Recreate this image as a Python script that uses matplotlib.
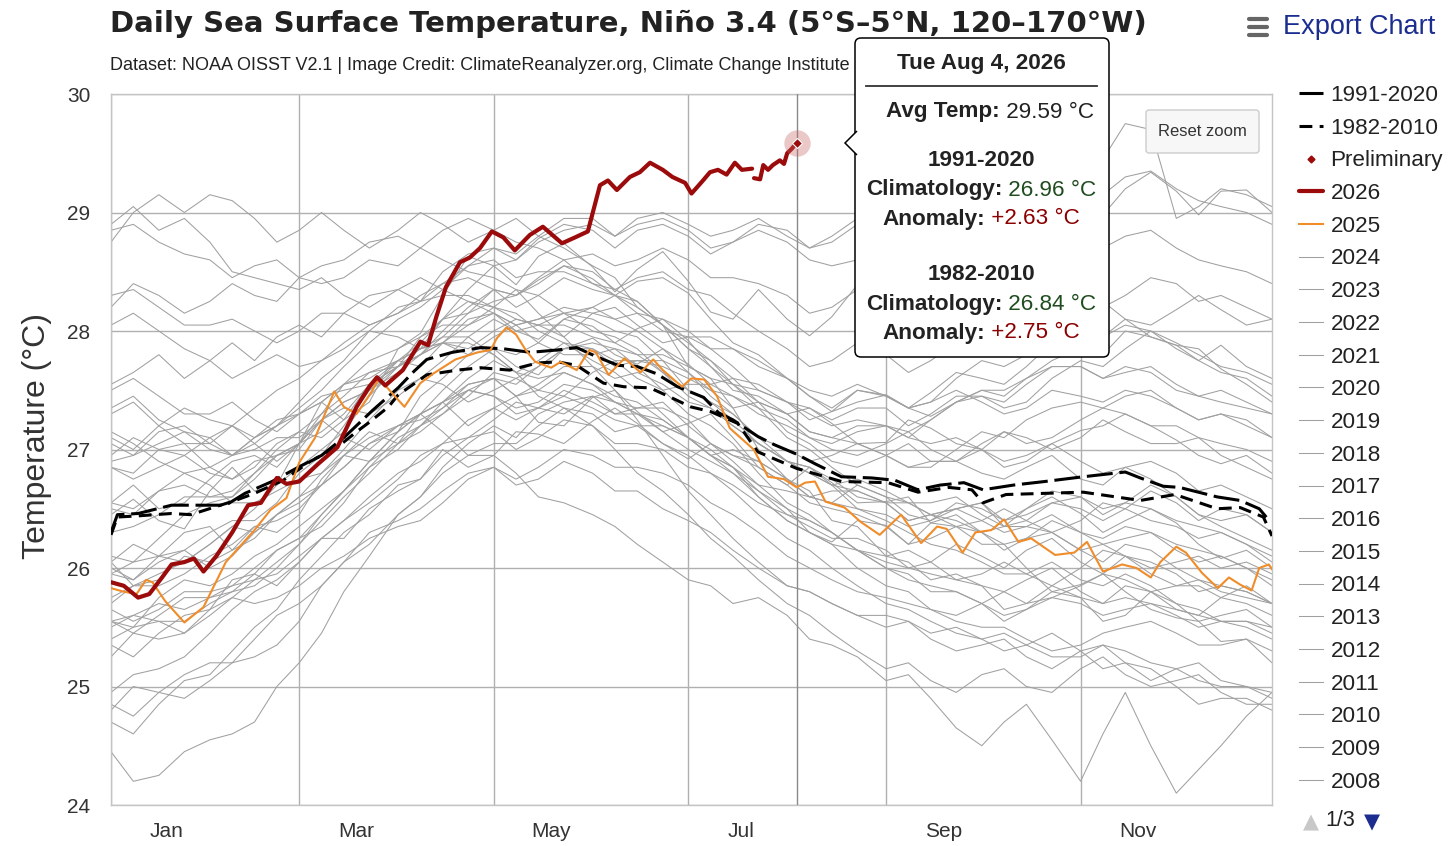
import matplotlib
matplotlib.use("Agg")
import matplotlib.pyplot as plt
from matplotlib.lines import Line2D
from matplotlib.patches import FancyBboxPatch, Polygon
from matplotlib.transforms import IdentityTransform

plt.rcParams['font.family'] = ['Liberation Sans', 'DejaVu Sans']

W, H = 1456, 846

# ---------------- data (day of year, deg C) ----------------
clim91_days = [1, 3, 9.5, 20, 28, 37, 43, 51.5, 59.7, 67, 74.4, 83, 91, 96, 100, 108, 117,
               124, 132.5, 141, 147, 153.5, 160, 166, 172, 178.6, 186.8, 191.5, 196,
               203.8, 209, 216, 221.7, 230, 239.5, 246.8, 254, 261, 268.4, 274.4, 284,
               293.8, 305.8, 319, 323.7, 330.9, 336, 347.8, 355, 361, 363.5, 365]
clim91_sst = [26.30, 26.45, 26.46, 26.53, 26.53, 26.53, 26.63, 26.73, 26.85, 26.95, 27.11,
              27.33, 27.52, 27.66, 27.76, 27.82, 27.86, 27.85, 27.82, 27.84, 27.86, 27.78,
              27.71, 27.70, 27.64, 27.53, 27.44, 27.31, 27.25, 27.11, 27.04, 26.96, 26.88,
              26.77, 26.76, 26.74, 26.66, 26.70, 26.72, 26.66, 26.70, 26.73, 26.77, 26.81,
              26.76, 26.69, 26.68, 26.60, 26.57, 26.50, 26.42, 26.40]

clim82_days = [1, 3, 9.5, 20, 26, 33, 40, 46, 55, 63.5, 72, 78, 82, 88, 91, 100, 109.6,
               116.8, 126, 134.7, 141, 147, 155.4, 161.7, 170, 176.5, 182.7, 189, 197.5,
               203.8, 216, 230, 244.6, 254, 263.7, 270.9, 274.4, 281.6, 293.8, 305.8,
               323.7, 334.6, 347.8, 355, 362.3, 365]
clim82_sst = [26.28, 26.43, 26.44, 26.46, 26.45, 26.51, 26.57, 26.63, 26.74, 26.90, 27.02,
              27.15, 27.23, 27.36, 27.46, 27.63, 27.67, 27.69, 27.67, 27.73, 27.74, 27.71,
              27.56, 27.53, 27.52, 27.44, 27.36, 27.32, 27.22, 26.98, 26.84, 26.73, 26.72,
              26.64, 26.68, 26.66, 26.55, 26.62, 26.63, 26.64, 26.57, 26.62, 26.50, 26.51,
              26.43, 26.27]

days_2026 = [1, 5, 9.5, 13, 17, 20, 24, 27, 30, 34, 39, 44, 48, 53, 56, 60, 66, 72, 78,
             82, 84.4, 87, 92.5, 98, 100.4, 103, 106, 110.4, 113.5, 116.7, 120.4, 124,
             127.6, 132.3, 136.4, 142.4, 146.5, 150.5, 154.3, 156.8, 159.6, 163.7, 166.8,
             170, 174, 177, 181, 183, 186.6, 188.8, 191.3, 194, 196.6, 198.8, 202]
sst_2026 = [25.88, 25.85, 25.75, 25.78, 25.92, 26.03, 26.05, 26.08, 25.97, 26.10, 26.30,
            26.53, 26.55, 26.76, 26.71, 26.73, 26.88, 27.02, 27.36, 27.53, 27.61, 27.54,
            27.67, 27.91, 27.88, 28.12, 28.37, 28.58, 28.62, 28.70, 28.84, 28.79, 28.68,
            28.81, 28.88, 28.74, 28.79, 28.84, 29.23, 29.27, 29.19, 29.30, 29.34, 29.42,
            29.36, 29.30, 29.25, 29.16, 29.27, 29.34, 29.36, 29.32, 29.42, 29.36, 29.37]
days_2026_prelim = [202.6, 204.5, 205.5, 207, 208.5, 210.7, 212, 213, 214.5, 216]
sst_2026_prelim = [29.29, 29.28, 29.40, 29.36, 29.40, 29.44, 29.41, 29.50, 29.54, 29.59]

days_2025 = [1, 5, 9, 12, 14, 18, 24, 30, 37, 46, 51, 56, 60, 65, 71, 74, 78, 83, 85, 90,
             93, 98, 102, 109, 116, 120, 122, 125, 128, 131, 134, 139, 142, 147, 151, 153,
             157, 162, 167, 171, 174, 180, 183, 187, 191, 195, 197.5, 202.5, 207, 212, 216,
             218.6, 221.7, 225, 231, 236, 242, 248.7, 255, 260, 263, 268, 272, 277, 281,
             285.5, 289.5, 297, 303, 307, 312, 318, 322.5, 327, 330, 335, 338, 343, 348,
             351.5, 355, 358.6, 361, 364, 365]
sst_2025 = [25.83, 25.80, 25.78, 25.90, 25.88, 25.72, 25.54, 25.67, 26.05, 26.32, 26.49,
            26.59, 26.89, 27.10, 27.49, 27.36, 27.30, 27.50, 27.60, 27.45, 27.36, 27.56,
            27.64, 27.76, 27.82, 27.84, 27.94, 28.03, 27.97, 27.84, 27.74, 27.69, 27.74,
            27.67, 27.84, 27.82, 27.63, 27.77, 27.65, 27.76, 27.67, 27.53, 27.60, 27.59,
            27.45, 27.18, 27.12, 27.00, 26.77, 26.75, 26.68, 26.72, 26.73, 26.56, 26.51,
            26.39, 26.28, 26.45, 26.21, 26.35, 26.33, 26.13, 26.30, 26.32, 26.41, 26.22,
            26.25, 26.11, 26.13, 26.22, 25.97, 26.03, 26.00, 25.92, 26.05, 26.18, 26.13,
            25.96, 25.83, 25.92, 25.86, 25.81, 26.00, 26.03, 25.99]

# earlier years, read roughly once a week
gray_days = [1, 8, 16, 24, 32, 39, 46, 53, 60, 67, 74, 82, 91, 98, 105, 113, 121, 128, 135,
             143, 152, 159, 166, 174, 182, 189, 196, 204, 213, 220, 227, 235, 244, 251, 258,
             266, 274, 281, 288, 296, 305, 312, 319, 327, 335, 342, 349, 357, 365]
sst_1982 = [26.45,26.58,26.40,26.33,26.65,26.85,26.65,26.70,27.05,27.40,27.25,27.40,27.85,27.98,28.30,28.63,28.55,28.39,28.63,28.74,28.54,28.33,28.52,28.67,28.42,28.16,28.10,28.35,28.10,27.96,28.12,28.39,28.26,28.17,28.38,28.74,28.70,28.55,28.80,29.08,29.06,28.98,29.20,29.34,29.18,28.98,29.18,29.19,29.00]
sst_1983 = [28.75,29.00,29.15,29.00,29.15,29.10,28.95,28.75,28.85,29.00,28.85,28.70,28.85,29.00,28.90,28.75,28.85,28.95,28.80,28.70,28.55,28.45,28.20,28.05,27.70,27.60,27.35,27.00,26.75,26.65,26.40,26.35,26.10,26.05,25.90,25.95,25.85,25.65,25.70,25.85,25.75,25.55,25.60,25.80,25.65,25.60,25.75,25.85,25.70]
sst_1984 = [25.95,25.90,26.10,26.30,26.35,26.15,26.25,26.45,26.55,26.70,26.95,27.15,27.05,27.30,27.40,27.20,27.35,27.45,27.23,27.20,27.44,27.50,27.32,27.15,27.22,27.30,27.10,26.85,26.70,26.85,26.72,26.55,26.56,26.60,26.38,26.35,26.20,26.20,26.00,25.80,25.86,25.95,25.80,25.65,25.58,25.55,25.38,25.40,25.20]
sst_1985 = [25.25,25.45,25.40,25.45,25.65,25.90,25.95,25.85,26.05,26.25,26.25,26.50,26.65,26.75,27.00,26.85,26.95,27.15,27.13,27.05,27.24,27.35,27.22,27.05,26.92,27.05,26.90,26.70,26.50,26.30,26.22,26.40,26.36,26.20,26.38,26.45,26.30,26.35,26.50,26.60,26.46,26.30,26.40,26.50,26.38,26.20,26.08,26.15,26.00]
sst_1986 = [26.05,25.85,25.90,26.10,26.05,26.15,26.35,26.30,26.45,26.75,26.95,26.90,27.15,27.45,27.60,27.80,27.85,27.70,27.63,27.85,27.94,27.80,27.72,27.85,27.72,27.55,27.60,27.55,27.40,27.25,27.32,27.50,27.46,27.35,27.48,27.65,27.60,27.55,27.70,27.90,27.86,27.80,28.00,27.95,27.88,27.75,27.88,27.70,27.60]
sst_1987 = [27.55,27.65,27.80,27.60,27.75,27.90,27.75,27.95,28.05,27.95,28.15,28.30,28.35,28.25,28.50,28.65,28.70,28.60,28.78,28.90,28.85,28.70,28.85,28.90,28.80,28.65,28.75,28.85,28.75,28.60,28.55,28.60,28.46,28.35,28.28,28.10,28.20,28.35,28.30,28.15,28.16,28.25,28.10,27.95,27.88,27.85,27.68,27.55,27.40]
sst_1988 = [27.30,27.40,27.20,27.05,27.05,27.20,27.05,26.90,27.05,27.25,27.10,27.00,27.20,27.30,27.15,26.95,26.95,26.80,26.60,26.55,26.45,26.35,26.20,26.05,25.90,25.85,25.70,25.75,25.60,25.40,25.35,25.25,25.05,25.10,24.90,24.65,24.50,24.70,24.85,24.55,24.20,24.60,24.95,24.50,24.10,24.30,24.50,24.75,24.95]
sst_1989 = [24.45,24.20,24.25,24.45,24.55,24.60,24.70,25.00,25.20,25.45,25.80,26.10,26.45,26.60,26.85,27.05,27.20,27.10,27.30,27.40,27.45,27.30,27.35,27.40,27.20,27.05,26.95,26.90,26.75,26.60,26.55,26.70,26.60,26.45,26.40,26.50,26.55,26.40,26.50,26.65,26.60,26.45,26.55,26.70,26.60,26.45,26.40,26.45,26.30]
sst_1990 = [26.55,26.70,26.50,26.55,26.75,26.90,26.95,26.85,27.05,27.30,27.55,27.60,27.75,27.70,27.90,28.10,28.15,28.00,27.93,28.10,28.04,27.90,28.02,28.10,27.92,27.70,27.50,27.45,27.30,27.35,27.22,27.05,27.06,27.25,27.18,27.05,27.00,26.85,26.90,27.05,27.16,27.20,27.30,27.20,27.08,26.95,26.88,26.95,26.80]
sst_1991 = [26.85,26.80,27.00,27.05,26.85,26.75,26.85,27.05,27.15,27.10,27.25,27.55,27.75,27.85,28.10,28.15,28.35,28.30,28.43,28.55,28.44,28.30,28.42,28.45,28.32,28.10,27.90,27.80,27.60,27.45,27.32,27.40,27.46,27.35,27.28,27.40,27.50,27.45,27.60,27.75,27.86,27.95,28.10,28.05,28.18,28.30,28.18,28.05,28.10]
sst_1992 = [28.20,28.40,28.30,28.15,28.25,28.40,28.30,28.25,28.45,28.55,28.60,28.75,28.80,28.70,28.85,28.95,28.85,28.75,28.70,28.60,28.40,28.35,28.25,28.05,27.90,27.75,27.55,27.35,27.10,27.00,26.85,26.70,26.60,26.55,26.45,26.50,26.55,26.35,26.40,26.55,26.50,26.40,26.50,26.65,26.55,26.40,26.50,26.45,26.30]
sst_1993 = [26.55,26.50,26.65,26.80,26.85,26.95,27.10,27.20,27.40,27.60,27.75,28.00,28.20,28.25,28.40,28.55,28.60,28.45,28.50,28.50,28.40,28.30,28.25,28.05,27.85,27.70,27.55,27.40,27.30,27.15,27.10,27.05,26.95,26.85,26.90,26.90,26.80,26.75,26.85,26.95,26.75,26.70,26.85,26.90,26.80,26.65,26.70,26.60,26.50]
sst_1994 = [26.50,26.45,26.65,26.70,26.60,26.65,26.80,26.95,27.00,27.25,27.40,27.50,27.70,27.95,28.05,28.05,28.20,28.35,28.30,28.15,28.20,28.30,28.15,28.00,27.95,27.85,27.70,27.50,27.40,27.35,27.25,27.35,27.35,27.20,27.30,27.45,27.45,27.35,27.40,27.60,27.75,27.70,27.85,28.00,27.90,27.80,27.70,27.65,27.55]
sst_1995 = [27.50,27.60,27.45,27.30,27.30,27.40,27.25,27.15,27.30,27.45,27.50,27.55,27.70,27.85,27.90,27.80,27.95,28.05,27.90,27.80,27.80,27.85,27.70,27.50,27.30,27.20,27.05,26.80,26.55,26.45,26.30,26.15,26.00,25.95,25.80,25.80,25.70,25.55,25.65,25.80,25.75,25.70,25.85,25.80,25.70,25.55,25.60,25.65,25.50]
sst_1996 = [25.55,25.45,25.60,25.75,25.75,25.80,25.95,26.15,26.25,26.35,26.55,26.85,27.10,27.20,27.35,27.55,27.60,27.45,27.50,27.65,27.55,27.40,27.35,27.35,27.25,27.05,26.95,26.85,26.70,26.55,26.50,26.45,26.35,26.20,26.25,26.35,26.30,26.15,26.25,26.40,26.30,26.20,26.25,26.30,26.15,26.05,26.10,26.00,25.85]
sst_1997 = [25.95,26.05,26.10,26.15,26.30,26.40,26.40,26.55,26.80,26.95,27.20,27.50,27.75,27.90,28.10,28.35,28.55,28.60,28.75,28.85,28.90,28.80,28.95,29.00,28.90,28.80,28.85,28.95,28.80,28.70,28.75,28.90,28.85,28.80,28.90,29.00,29.05,29.00,29.15,29.25,29.25,29.15,29.30,29.35,29.20,29.10,29.05,29.00,28.90]
sst_1998 = [28.85,28.90,28.75,28.65,28.60,28.45,28.55,28.60,28.45,28.40,28.45,28.60,28.55,28.70,28.60,28.50,28.45,28.35,28.15,27.95,27.70,27.50,27.25,26.95,26.65,26.45,26.25,26.05,25.85,25.80,25.70,25.60,25.50,25.55,25.40,25.30,25.35,25.40,25.25,25.15,25.30,25.35,25.20,25.05,25.15,25.20,25.05,25.00,24.95]
sst_1999 = [24.85,24.75,24.95,25.10,25.20,25.20,25.40,25.60,25.70,25.85,26.05,26.30,26.40,26.50,26.65,26.80,26.85,26.70,26.75,26.90,26.80,26.65,26.65,26.50,26.40,26.30,26.15,26.00,25.85,25.80,25.70,25.60,25.60,25.55,25.45,25.50,25.40,25.30,25.35,25.45,25.30,25.15,25.20,25.15,25.00,24.85,24.90,24.90,24.80]
sst_2000 = [24.70,24.60,24.85,25.05,25.10,25.30,25.50,25.65,25.90,26.10,26.30,26.45,26.70,26.75,26.95,27.10,27.15,27.00,27.10,27.25,27.20,27.05,27.05,27.00,26.85,26.80,26.70,26.55,26.45,26.35,26.25,26.25,26.15,26.00,26.05,26.20,26.10,26.00,26.15,26.25,26.05,25.95,26.10,26.05,25.95,25.80,25.85,25.80,25.70]
sst_2001 = [25.70,25.85,25.85,25.95,26.10,26.20,26.35,26.40,26.50,26.70,26.85,27.05,27.15,27.30,27.40,27.55,27.60,27.45,27.55,27.70,27.70,27.60,27.65,27.55,27.40,27.35,27.20,27.05,26.90,26.85,26.75,26.60,26.55,26.55,26.45,26.35,26.40,26.50,26.40,26.30,26.40,26.55,26.50,26.40,26.35,26.25,26.30,26.20,26.10]
sst_2002 = [26.30,26.35,26.45,26.60,26.60,26.60,26.75,26.95,27.05,27.15,27.30,27.55,27.70,27.80,27.95,28.15,28.25,28.30,28.40,28.55,28.50,28.35,28.45,28.50,28.35,28.30,28.15,28.00,27.85,27.70,27.75,27.90,27.80,27.65,27.75,27.90,27.95,27.85,28.00,28.15,28.10,27.95,28.05,28.00,27.85,27.75,27.65,27.60,27.45]
sst_2003 = [27.35,27.45,27.25,27.15,27.10,26.95,27.00,27.10,27.10,27.25,27.35,27.30,27.45,27.60,27.55,27.40,27.50,27.60,27.50,27.45,27.65,27.75,27.60,27.50,27.55,27.55,27.45,27.30,27.20,27.10,27.00,26.95,27.05,27.15,27.00,26.90,27.00,27.15,27.10,27.00,27.10,27.25,27.15,27.05,27.05,27.10,26.95,26.85,26.75]
sst_2004 = [26.85,26.75,26.85,26.95,26.80,26.75,26.90,26.95,27.05,27.25,27.40,27.50,27.65,27.80,27.90,27.85,28.00,28.10,28.05,27.95,28.15,28.20,28.05,27.90,27.95,27.95,27.85,27.70,27.60,27.50,27.45,27.55,27.45,27.35,27.40,27.50,27.40,27.30,27.35,27.50,27.45,27.40,27.50,27.45,27.35,27.25,27.30,27.25,27.10]
sst_2005 = [27.05,26.95,27.15,27.20,27.05,26.95,27.05,27.20,27.30,27.40,27.55,27.75,27.85,27.95,28.10,28.25,28.15,28.05,28.10,28.15,28.00,27.95,27.85,27.65,27.45,27.35,27.20,27.05,26.90,26.80,26.70,26.75,26.65,26.55,26.55,26.60,26.45,26.35,26.35,26.30,26.15,26.20,26.10,25.95,25.85,25.85,25.75,25.70,25.60]
sst_2006 = [25.55,25.60,25.70,25.65,25.75,25.85,25.90,26.05,26.20,26.40,26.60,26.80,27.05,27.20,27.40,27.60,27.75,27.65,27.75,27.90,27.85,27.70,27.75,27.75,27.65,27.50,27.35,27.40,27.30,27.15,27.10,27.20,27.20,27.10,27.25,27.40,27.45,27.40,27.55,27.70,27.70,27.60,27.65,27.70,27.55,27.45,27.50,27.40,27.30]
sst_2007 = [27.15,27.05,26.90,26.80,26.70,26.55,26.55,26.65,26.75,26.80,26.95,27.10,27.20,27.30,27.40,27.50,27.45,27.30,27.35,27.45,27.35,27.25,27.20,27.05,26.95,26.80,26.65,26.45,26.25,26.15,26.00,25.85,25.70,25.65,25.55,25.45,25.40,25.45,25.35,25.25,25.25,25.35,25.30,25.20,25.15,25.05,25.00,25.00,24.90]
sst_2008 = [24.80,25.00,24.95,24.90,25.05,25.20,25.25,25.35,25.55,25.85,26.05,26.20,26.45,26.60,26.80,26.95,27.05,27.05,27.20,27.35,27.30,27.15,27.20,27.20,27.10,26.95,27.00,26.90,26.75,26.60,26.65,26.65,26.55,26.40,26.45,26.40,26.30,26.20,26.25,26.30,26.15,26.05,26.20,26.15,26.00,25.90,25.85,25.80,25.70]
sst_2009 = [25.65,25.55,25.65,25.80,25.80,25.85,26.00,26.15,26.25,26.45,26.65,26.90,27.15,27.30,27.50,27.70,27.85,27.80,27.90,28.10,28.20,28.10,28.15,28.10,28.00,27.85,27.85,27.75,27.60,27.45,27.35,27.50,27.45,27.35,27.40,27.60,27.75,27.70,27.80,28.00,28.15,28.20,28.30,28.45,28.40,28.25,28.30,28.20,28.10]
sst_2010 = [28.05,28.15,28.00,27.85,27.75,27.60,27.70,27.80,27.70,27.75,27.85,28.00,27.95,27.85,27.95,27.95,27.80,27.65,27.45,27.35,27.20,27.00,26.80,26.65,26.45,26.25,26.10,25.90,25.70,25.60,25.45,25.30,25.15,25.20,25.05,24.95,25.10,25.15,25.00,24.95,25.15,25.25,25.10,25.00,25.05,25.10,24.95,24.85,24.85]
sst_2011 = [24.95,25.10,25.15,25.25,25.45,25.65,25.80,25.90,26.05,26.25,26.40,26.55,26.75,26.95,27.05,27.10,27.25,27.40,27.35,27.30,27.45,27.40,27.30,27.15,27.00,26.90,26.80,26.60,26.40,26.30,26.20,26.15,26.00,25.90,25.85,25.80,25.70,25.60,25.65,25.75,25.70,25.60,25.65,25.70,25.60,25.50,25.55,25.50,25.40]
sst_2012 = [25.55,25.50,25.75,25.90,25.85,25.95,26.10,26.20,26.35,26.50,26.65,26.90,27.05,27.15,27.30,27.50,27.60,27.55,27.70,27.85,27.90,27.85,27.80,27.80,27.70,27.60,27.55,27.50,27.40,27.30,27.20,27.25,27.20,27.10,27.05,27.10,27.00,26.90,26.95,27.05,26.90,26.80,26.85,26.75,26.60,26.45,26.35,26.25,26.15]
sst_2013 = [26.05,26.20,26.10,26.05,26.20,26.35,26.30,26.45,26.60,26.70,26.85,27.05,27.20,27.25,27.35,27.50,27.45,27.35,27.40,27.55,27.50,27.40,27.30,27.20,27.10,26.95,26.85,26.70,26.65,26.60,26.55,26.50,26.45,26.35,26.40,26.55,26.50,26.40,26.45,26.55,26.60,26.50,26.55,26.50,26.40,26.35,26.30,26.20,26.05]
sst_2014 = [26.00,25.90,26.05,26.15,26.00,26.10,26.30,26.45,26.60,26.80,27.00,27.25,27.50,27.60,27.75,27.95,28.10,28.00,28.05,28.15,28.10,28.00,27.95,27.75,27.50,27.40,27.30,27.10,27.00,26.90,26.95,27.05,26.95,26.85,26.85,27.00,27.15,27.10,27.25,27.35,27.40,27.35,27.45,27.50,27.35,27.25,27.30,27.20,27.10]
sst_2015 = [26.95,27.10,27.00,26.95,27.10,27.20,27.10,27.20,27.35,27.50,27.70,27.90,28.10,28.20,28.35,28.55,28.70,28.65,28.80,28.95,28.95,28.80,28.90,28.95,28.85,28.70,28.75,28.90,28.85,28.70,28.80,28.95,28.90,28.95,29.05,29.15,29.20,29.30,29.35,29.50,29.55,29.45,29.75,29.70,28.95,29.05,29.20,29.15,29.05]
sst_2016 = [28.90,29.05,28.85,28.95,28.75,28.50,28.45,28.40,28.35,28.45,28.30,28.20,28.35,28.45,28.35,28.25,28.20,28.15,28.00,27.90,27.75,27.65,27.50,27.30,27.10,26.95,26.80,26.65,26.45,26.40,26.30,26.15,26.10,26.15,26.05,25.90,25.95,26.05,25.95,25.85,26.00,26.15,26.10,26.00,26.05,26.10,26.00,26.05,25.95]
sst_2017 = [26.10,26.05,26.25,26.45,26.55,26.60,26.80,27.00,27.15,27.30,27.45,27.65,27.70,27.80,27.90,28.05,28.15,28.05,28.10,28.20,28.15,28.10,28.00,27.85,27.65,27.45,27.30,27.10,26.90,26.85,26.70,26.50,26.40,26.30,26.20,26.15,26.05,25.95,25.95,26.05,25.90,25.85,25.95,25.85,25.70,25.65,25.55,25.55,25.45]
sst_2018 = [25.50,25.60,25.55,25.55,25.70,25.80,25.85,26.00,26.20,26.45,26.65,26.85,27.00,27.20,27.30,27.45,27.65,27.60,27.70,27.85,27.85,27.75,27.75,27.70,27.60,27.50,27.45,27.35,27.25,27.10,27.05,27.15,27.20,27.15,27.25,27.40,27.50,27.50,27.60,27.70,27.70,27.60,27.70,27.65,27.50,27.45,27.40,27.35,27.30]
sst_2019 = [27.10,27.00,27.20,27.35,27.25,27.20,27.35,27.50,27.60,27.75,27.90,28.05,28.15,28.30,28.40,28.45,28.35,28.20,28.30,28.45,28.35,28.30,28.20,28.05,27.85,27.75,27.60,27.40,27.15,27.05,26.90,26.85,26.95,27.05,26.90,26.90,27.05,27.15,27.05,27.10,27.25,27.35,27.30,27.20,27.20,27.10,27.05,27.00,26.90]
sst_2020 = [26.90,26.95,27.05,27.15,27.00,26.95,27.10,27.25,27.30,27.40,27.55,27.65,27.75,27.85,27.90,27.90,27.80,27.65,27.60,27.65,27.55,27.45,27.40,27.25,27.10,27.00,26.85,26.60,26.40,26.30,26.20,26.00,25.85,25.80,25.65,25.55,25.50,25.50,25.40,25.30,25.35,25.45,25.50,25.55,25.45,25.35,25.35,25.40,25.30]
sst_2021 = [25.35,25.25,25.45,25.60,25.65,25.75,25.90,25.95,26.10,26.25,26.40,26.60,26.80,26.90,27.05,27.25,27.35,27.25,27.35,27.50,27.40,27.30,27.30,27.25,27.10,26.95,26.85,26.65,26.50,26.40,26.30,26.15,26.05,26.00,25.95,25.90,25.85,25.80,25.90,26.00,25.80,25.70,25.75,25.70,25.65,25.60,25.55,25.55,25.50]
sst_2022 = [25.40,25.50,25.55,25.45,25.60,25.75,25.70,25.75,25.85,26.00,26.10,26.25,26.35,26.40,26.55,26.75,26.85,26.75,26.85,27.00,26.95,26.85,26.85,26.80,26.70,26.55,26.45,26.30,26.10,26.00,25.90,25.80,25.75,25.70,25.65,25.60,25.70,25.80,25.70,25.75,25.85,25.95,25.90,25.80,25.85,25.90,25.80,25.75,25.70]
sst_2023 = [25.75,25.85,25.95,26.05,26.20,26.35,26.50,26.70,26.85,27.00,27.15,27.45,27.70,27.80,28.00,28.20,28.35,28.30,28.45,28.60,28.65,28.55,28.60,28.70,28.60,28.45,28.45,28.40,28.30,28.15,28.20,28.35,28.30,28.25,28.35,28.50,28.50,28.45,28.55,28.70,28.65,28.70,28.80,28.85,28.70,28.60,28.55,28.50,28.40]
sst_2024 = [28.30,28.35,28.20,28.05,28.05,28.10,28.00,27.90,28.00,28.15,28.15,28.05,28.15,28.25,28.30,28.30,28.20,28.10,28.05,28.05,27.95,27.90,27.80,27.65,27.50,27.40,27.25,27.05,26.90,26.80,26.70,26.65,26.55,26.40,26.45,26.50,26.40,26.30,26.35,26.45,26.30,26.25,26.35,26.30,26.20,26.15,26.10,26.00,25.90]

gray_years = list(range(1982, 2025))
legend_years = list(range(2024, 2007, -1))
month_grid = [1, 60, 121, 182, 244, 305]
month_label_days = [18.5, 78, 139, 198.5, 262, 323]
month_labels = ['Jan', 'Mar', 'May', 'Jul', 'Sep', 'Nov']

DARK_RED = '#9c0b0b'
ORANGE = '#f08c2a'
GRAY = '#a0a0a0'
TXT = '#333333'


def fx(x):
    return x / W


def fy(y):
    return 1 - y / H


def pxbox(x0, y0, x1, y1, **kw):
    return FancyBboxPatch((x0, H - y1), x1 - x0, y1 - y0,
                          transform=IdentityTransform(), **kw)


fig = plt.figure(figsize=(W / 100, H / 100), dpi=100)
ax = fig.add_axes([fx(111), fy(805), (1272 - 111) / W, (805 - 94) / H])

series = {}
for yr in gray_years:
    vals = globals()['sst_%d' % yr]
    n = min(len(vals), len(gray_days))
    ln, = ax.plot(gray_days[:n], vals[:n], color=GRAY, lw=0.75, zorder=2)
    series[yr] = ln

l91, = ax.plot(clim91_days, clim91_sst, color='black', lw=2.2,
               linestyle=(0, (8.5, 2.2)), zorder=4)
l82, = ax.plot(clim82_days, clim82_sst, color='black', lw=2.2,
               linestyle=(0, (4.2, 2.4)), zorder=4)
l25, = ax.plot(days_2025, sst_2025, color=ORANGE, lw=1.5, zorder=5)
l26, = ax.plot(days_2026, sst_2026, color=DARK_RED, lw=3.0, zorder=6,
               solid_joinstyle='round', solid_capstyle='round')
ax.plot(days_2026_prelim, sst_2026_prelim, color=DARK_RED, lw=3.0, zorder=6,
        solid_joinstyle='round', solid_capstyle='round')

# hover marker and crosshair
ax.axvline(days_2026_prelim[-1], color='#8a8a8a', lw=1.0, zorder=3)
ax.plot(days_2026_prelim[-1], sst_2026_prelim[-1], 'o', ms=19, color='#c86464',
        alpha=0.35, mec='none', zorder=7)
ax.plot(days_2026_prelim[-1], sst_2026_prelim[-1], 'D', ms=5.5, color=DARK_RED,
        mec='white', mew=0.8, zorder=8)

ax.set_xlim(1, 365)
ax.set_ylim(24, 30)
ax.set_yticks(range(24, 31))
ax.set_yticklabels([str(v) for v in range(24, 31)], fontsize=15, color=TXT)
ax.set_xticks(month_grid)
ax.set_xticklabels([''] * len(month_grid))
ax.set_xticks(month_label_days, minor=True)
ax.set_xticklabels(month_labels, minor=True, fontsize=15, color=TXT)
ax.tick_params(which='both', length=0)
ax.tick_params(axis='x', which='minor', pad=12)
ax.tick_params(axis='y', pad=15)
ax.grid(True, which='major', color='#b0b0b0', lw=1.0, zorder=1)
ax.set_axisbelow(True)
for sp in ax.spines.values():
    sp.set_color('#c4c4c4')
    sp.set_linewidth(1.0)

fig.text(fx(37), fy(436), 'Temperature (°C)', rotation=90, ha='center', va='center',
         fontsize=23, color=TXT)

# titles (the tooltip hides the rest of the credit line)
fig.text(fx(110), fy(24), 'Daily Sea Surface Temperature, Niño 3.4 (5°S–5°N, 120–170°W)',
         family=['DejaVu Sans'], fontweight='bold', fontsize=21, color='#222222',
         va='center', ha='left')
fig.text(fx(110), fy(66), 'Dataset: NOAA OISST V2.1 | Image Credit: ClimateReanalyzer.org, '
         'Climate Change Institute', fontsize=13, color='#222222',
         va='center', ha='left')

# export menu
for yy in (19, 27, 35):
    fig.add_artist(Line2D([1249, 1267], [H - yy, H - yy], transform=IdentityTransform(),
                          color='#666666', lw=3, solid_capstyle='round'))
fig.text(fx(1283), fy(27), 'Export Chart', fontsize=19.5, color='#1b2d8f',
         va='center', ha='left')

# reset zoom button
fig.add_artist(pxbox(1146, 110, 1259, 153, boxstyle='round,pad=0,rounding_size=3',
                     fc='#f7f7f7', ec='#cccccc', lw=1, zorder=9))
fig.text(fx(1202), fy(131), 'Reset zoom', fontsize=12, color=TXT, ha='center',
         va='center', zorder=10)

# legend
handles = [l91, l82,
           Line2D([], [], marker='D', ms=3.5, color=DARK_RED, linestyle='none'),
           l26, l25] + [series[y] for y in legend_years]
labels = ['1991-2020', '1982-2010', 'Preliminary', '2026', '2025'] + \
         [str(y) for y in legend_years]
leg = fig.legend(handles, labels, loc='upper left', bbox_to_anchor=(fx(1299), fy(85)),
                 frameon=False, fontsize=16.2, handlelength=1.05, handletextpad=0.35,
                 labelspacing=0.52, borderaxespad=0, borderpad=0)
for t in leg.get_texts():
    t.set_color('#222222')

fig.text(fx(1311), fy(822), '▲', family=['DejaVu Sans'], fontsize=15, color='#c8c8c8',
         ha='center', va='center')
fig.text(fx(1340), fy(820), '1/3', fontsize=15.5, color='#222222', ha='center', va='center')
fig.text(fx(1372), fy(822), '▼', family=['DejaVu Sans'], fontsize=15, color='#1b2d8f',
         ha='center', va='center')

# tooltip
fig.add_artist(pxbox(855, 38, 1109, 357, boxstyle='round,pad=0,rounding_size=6',
                     fc='white', ec='black', lw=1.1, zorder=20))
fig.add_artist(Polygon([(857, H - 131), (845, H - 143), (857, H - 155)], closed=False,
                       transform=IdentityTransform(), fc='white', ec='black', lw=1.1,
                       zorder=21))
fig.add_artist(Line2D([866, 1097], [H - 86, H - 86], transform=IdentityTransform(),
                      color='#333333', lw=1.3, zorder=21))

renderer = fig.canvas.get_renderer()


def centered_line(xc, y, parts, size=16.2):
    texts = []
    for s, color, weight in parts:
        texts.append(fig.text(0, fy(y), s, color=color, fontsize=size, fontweight=weight,
                              ha='left', va='center', zorder=22))
    widths = [t.get_window_extent(renderer).width for t in texts]
    x = xc - sum(widths) / 2
    for t, w in zip(texts, widths):
        t.set_x(fx(x))
        x += w


GREEN = '#1f4d1f'
RED = '#8b0000'
centered_line(981, 64, [('Tue Aug 4, 2026', '#222222', 'bold')])
centered_line(990, 112, [('Avg Temp:', '#222222', 'bold'), (' 29.59 °C', '#222222', 'normal')])
centered_line(981, 161, [('1991-2020', '#222222', 'bold')])
centered_line(981, 190, [('Climatology:', '#222222', 'bold'), (' 26.96 °C', GREEN, 'normal')])
centered_line(981, 219, [('Anomaly:', '#222222', 'bold'), (' +2.63 °C', RED, 'normal')])
centered_line(981, 275, [('1982-2010', '#222222', 'bold')])
centered_line(981, 304, [('Climatology:', '#222222', 'bold'), (' 26.84 °C', GREEN, 'normal')])
centered_line(981, 333, [('Anomaly:', '#222222', 'bold'), (' +2.75 °C', RED, 'normal')])

fig.savefig('out.png', dpi=100)
